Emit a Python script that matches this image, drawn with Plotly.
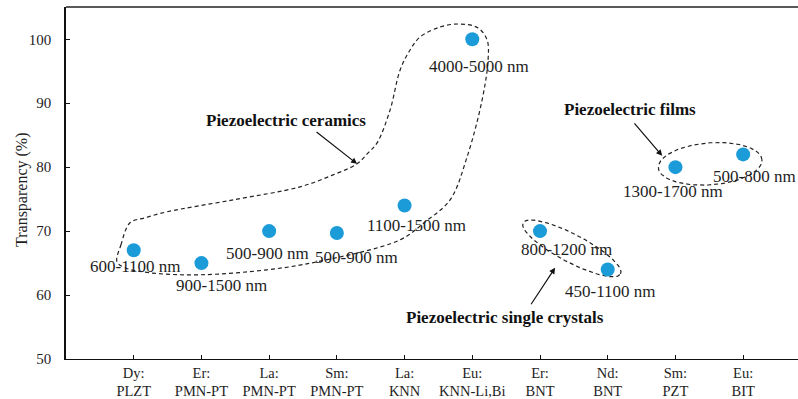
import numpy as np
import plotly.graph_objects as go

# ---- data -------------------------------------------------------------
dopants = ["Dy:", "Er:", "La:", "Sm:", "La:", "Eu:", "Er:", "Nd:", "Sm:", "Eu:"]
hosts = ["PLZT", "PMN-PT", "PMN-PT", "PMN-PT", "KNN", "KNN-Li,Bi", "BNT", "BNT", "PZT", "BIT"]
transparency = [67, 65, 70, 69.7, 74, 100, 70, 64, 80, 82]
wavelength_ranges = ["600-1100 nm", "900-1500 nm", "500-900 nm", "500-900 nm", "1100-1500 nm",
                     "4000-5000 nm", "800-1200 nm", "450-1100 nm", "1300-1700 nm", "500-800 nm"]
# pixel offsets of each wavelength label from its marker
label_dx = [2, 20, -2, 20, 12, 7, 26, 3, -2, 11]
label_dy = [-16, -22, -22, -24, -20, -27, -18, -22, -24, -22]

# hand-drawn outline around the ceramics group (x: category position, y: %)
ceramics_x = [0.753, 0.812, 0.945, 1.167, 1.492, 2.467, 3.456, 3.944, 4.298, 4.461, 4.594,
              4.786, 4.934, 5.081, 5.229, 5.524, 5.820, 6.086, 6.219, 6.233, 6.145, 5.923,
              5.672, 5.303, 4.934, 3.708, 2.969, 1.979, 1.241, 0.871, 0.753]
ceramics_y = [65.20, 67.86, 71.30, 72.08, 73.02, 74.89, 76.92, 78.80, 80.52, 82.23, 83.80,
              88.95, 95.20, 98.33, 100.36, 101.92, 102.39, 101.77, 99.89, 96.77, 90.52, 81.61,
              74.89, 71.45, 68.64, 65.20, 63.95, 63.17, 63.48, 64.27, 65.20]

# ---- layout constants ---------------------------------------------------
W, H = 798, 399
ML, MR, MT, MB = 66, 0, 7, 40
XMIN, XMAX = 0, 10.81
YMIN, YMAX = 50, 105.05
SX = (W - ML - MR) / (XMAX - XMIN)   # px per category step
SY = (H - MT - MB) / (YMAX - YMIN)   # px per percent

FONT = "Liberation Serif"
BLUE = "#1b9bd8"
TXT = "#1e1e1e"


def ellipse(cx, cy, a_px, b_px, angle_deg, n=120):
    t = np.linspace(0, 2 * np.pi, n)
    th = np.radians(angle_deg)
    ex = a_px * np.cos(t)
    ey = b_px * np.sin(t)
    px = ex * np.cos(th) - ey * np.sin(th)
    py = ex * np.sin(th) + ey * np.cos(th)
    return cx + px / SX, cy + py / SY


xs = list(range(1, len(transparency) + 1))
dash_line = dict(color="#222", width=1.2, dash="4px,3px")

fig = go.Figure()

fig.add_trace(go.Scatter(x=ceramics_x, y=ceramics_y, mode="lines",
                         line=dict(shape="spline", smoothing=1.0, **dash_line),
                         hoverinfo="skip", showlegend=False))

ex, ey = ellipse(7.47, 67.3, 55, 14, -27.7)
fig.add_trace(go.Scatter(x=ex, y=ey, mode="lines", line=dash_line,
                         hoverinfo="skip", showlegend=False))
ex, ey = ellipse(9.513, 80.52, 52, 21, 4.4)
fig.add_trace(go.Scatter(x=ex, y=ey, mode="lines", line=dash_line,
                         hoverinfo="skip", showlegend=False))

fig.add_trace(go.Scatter(x=xs, y=transparency, mode="markers",
                         marker=dict(size=14, color=BLUE, line=dict(width=0)),
                         showlegend=False))

annotations = []
for xi, yi, txt, dx, dy in zip(xs, transparency, wavelength_ranges, label_dx, label_dy):
    annotations.append(dict(x=xi, y=yi, text=txt, showarrow=False, xshift=dx, yshift=dy,
                            font=dict(family=FONT, size=17, color=TXT)))

group_labels = [
    ("Piezoelectric ceramics", 3.25, 87.23, 4.298, 80.52, -42, -33),
    ("Piezoelectric films", 8.331, 88.95, 8.804, 81.77, -29, -34),
    ("Piezoelectric single crystals", 6.485, 56.45, 7.223, 64.27, -25, 38),
]
for text, tx, ty, hx, hy, ax, ay in group_labels:
    annotations.append(dict(x=tx, y=ty, text="<b>" + text + "</b>", showarrow=False,
                            font=dict(family=FONT, size=17, color="#111")))
    annotations.append(dict(x=hx, y=hy, ax=ax, ay=ay, text="", showarrow=True,
                            arrowhead=2, arrowsize=1, arrowwidth=1.2, arrowcolor="#111",
                            standoff=0, startstandoff=0))

# y-axis title placed explicitly in pixel terms
annotations.append(dict(xref="paper", yref="paper", x=(22 - ML) / (W - ML - MR),
                        y=1 - (190 - MT) / (H - MT - MB), text="Transparency (%)",
                        textangle=-90, showarrow=False, xanchor="center", yanchor="middle",
                        font=dict(family=FONT, size=16, color=TXT)))

fig.update_layout(
    width=W, height=H,
    margin=dict(l=ML, r=MR, t=MT, b=MB, autoexpand=False),
    paper_bgcolor="white", plot_bgcolor="white",
    font=dict(family=FONT, color=TXT),
    annotations=annotations,
    shapes=[dict(type="line", xref="paper", yref="paper", x0=0, x1=1, y0=1, y1=1,
                 line=dict(color="#5a5a5a", width=2.2))],
    xaxis=dict(range=[XMIN, XMAX], tickvals=xs, automargin=False,
               ticktext=[d + "<br>" + h for d, h in zip(dopants, hosts)],
               ticks="inside", ticklen=4, tickcolor="#111", tickwidth=1.2,
               showline=True, linecolor="#111", linewidth=1.4,
               showgrid=False, zeroline=False,
               tickfont=dict(family=FONT, size=14.5, color=TXT), ticklabelstandoff=0),
    yaxis=dict(range=[YMIN, YMAX], tickvals=[50, 60, 70, 80, 90, 100], automargin=False,
               ticks="inside", ticklen=4, tickcolor="#111", tickwidth=1.2,
               showline=True, linecolor="#111", linewidth=1.6,
               showgrid=False, zeroline=False,
               tickfont=dict(family=FONT, size=15, color=TXT), ticklabelstandoff=10),
)

fig.write_html("out.html")
